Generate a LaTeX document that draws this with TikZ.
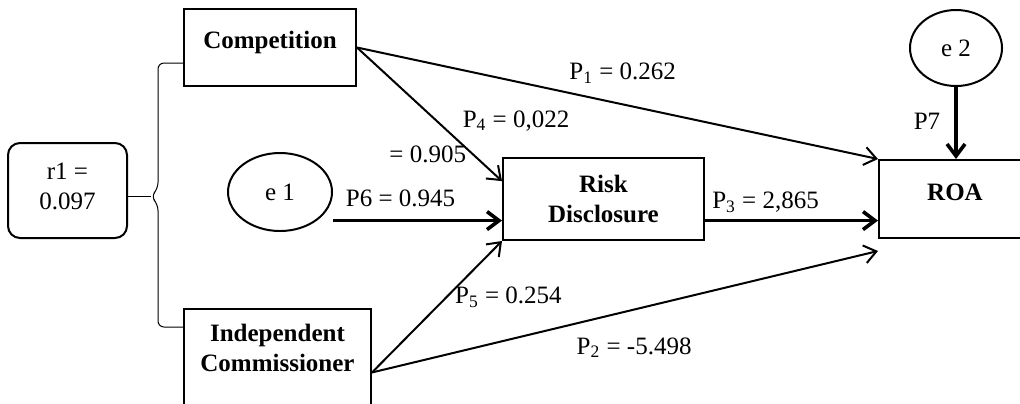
\documentclass[tikz,border=0pt]{standalone}
\usepackage{fontspec}
\setmainfont{Liberation Serif}
\usetikzlibrary{positioning, calc, arrows.meta, shapes.geometric}

\begin{document}
\begin{tikzpicture}
    [x=0.5pt, y=-0.5pt,
    every node/.style={font=\fontsize{12.5}{15}\selectfont},
    squarednode/.style={rectangle, draw=black, line width=1pt, align=center, font=\fontsize{12.5}{15}\selectfont\bfseries},
    roundnode/.style={ellipse, draw=black, line width=1pt, inner sep=0pt},
    coefnode/.style={inner sep=1pt},
    pathline/.style={-{Straight Barb[length=6pt, width=9pt]}, line width=1pt},
    thickline/.style={pathline, line width=1.8pt},
    braceline/.style={line width=0.5pt, rounded corners=3pt},]

    \useasboundingbox (0,0) rectangle (1020,403);

    %Nodes
    \node[squarednode, minimum width=86pt, minimum height=38.5pt, text depth=7.5pt](comp) at (270,47.5) {Competition};
    \node[squarednode, minimum width=93.5pt, minimum height=58.5pt](indc) at (277.5,367.5) {Independent\\Commissioner\\\strut};
    \node[squarednode, minimum width=100.5pt, minimum height=41pt](risk) at (603.5,199) {Risk\\Disclosure};
    \node[squarednode, minimum width=76pt, minimum height=39pt, text depth=7pt](roa) at (955,199) {ROA};
    \node[rectangle, draw=black, line width=1pt, rounded corners=6pt, align=center, minimum width=59.5pt, minimum height=47.5pt](r1) at (67.5,190.5) {r1 =\\0.097\strut};
    \node[roundnode, minimum width=52pt, minimum height=39pt](e1) at (280,192) {e 1};
    \node[roundnode, minimum width=46pt, minimum height=38pt](e2) at (956,48) {e 2};

    %Correlation bracket
    \coordinate (tip) at ([xshift=11.5pt, yshift=-3pt]r1.east);
    \draw[braceline] ([yshift=12pt]comp.south west) -| ([xshift=3.5pt, yshift=4pt]tip) -- (tip) -- ([xshift=3.5pt, yshift=-4pt]tip) |- ([yshift=-9.5pt]indc.north west);
    \draw[braceline] (r1.east |- tip) -- (tip);

    %Lines
    \draw[pathline](comp.east)--node[coefnode, pos=0.51, above=9pt]{P\textsubscript{1} = 0.262}(roa.north west);
    \draw[pathline](comp.east)--node[coefnode, pos=0.55, right=11.5pt]{P\textsubscript{4} = 0,022}
        node[coefnode, pos=0.8, left=2pt]{= 0.905}(risk.170);
    \draw[thickline](e1.east |- risk.192)--node[coefnode, pos=0.4, above=5pt]{P6 = 0.945}(risk.192);
    \draw[pathline](indc.-3.5)--node[coefnode, pos=0.57, right=3pt]{P\textsubscript{5} = 0.254}(risk.south west);
    \draw[pathline](indc.-3.5)--node[coefnode, pos=0.518, below=12.5pt]{P\textsubscript{2} = -5.498}([yshift=-6pt]roa.south west);
    \draw[thickline](risk.-12)--node[coefnode, pos=0.35, above=2pt]{P\textsubscript{3} = 2,865}(roa.west |- risk.-12);
    \draw[thickline](e2.south)--node[coefnode, pos=0.47, left=6pt]{P7}(e2.south |- roa.north);

\end{tikzpicture}
\end{document}
